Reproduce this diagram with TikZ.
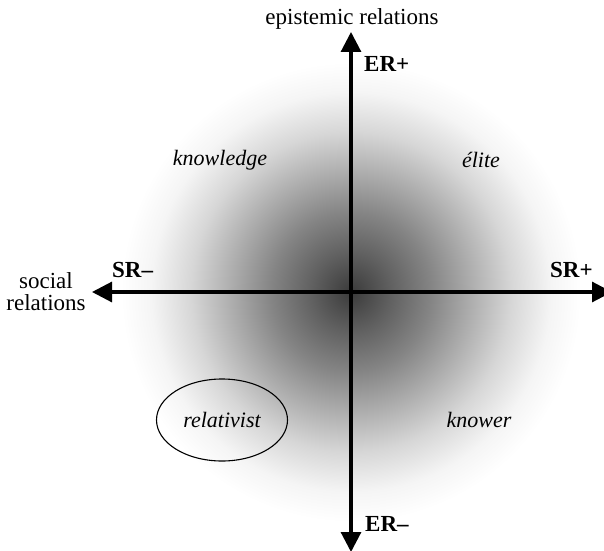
\documentclass[tikz,border=0pt]{standalone}
\usepackage{fontspec}
\setmainfont{Liberation Serif}
\usetikzlibrary{arrows.meta,shapes.geometric}

\pgfdeclareradialshading{haze}{\pgfpoint{0bp}{0bp}}{%
  color(0bp)=(black!77); color(4.17bp)=(black!62); color(8.33bp)=(black!48);
  color(12.5bp)=(black!32); color(16.67bp)=(black!16); color(20.83bp)=(black!4);
  color(23.96bp)=(white); color(50bp)=(white)}

\tikzset{
  axis/.style={line width=3.1pt,
    {Triangle[length=20pt,width=20pt]}-{Triangle[length=20pt,width=20pt]}},
  plain/.style={inner sep=0pt, font=\fontsize{23}{22}\selectfont},
  pole/.style={inner sep=0pt, font=\fontsize{23}{22}\selectfont\bfseries},
  code/.style={inner sep=0pt, font=\fontsize{22}{22}\selectfont\itshape}
}

\begin{document}
\begin{tikzpicture}[x=1pt,y=1pt]
  \useasboundingbox (0,0) rectangle (604,550);

  \coordinate (o) at (351,258);
  \shade[shading=haze] (o) circle (240);

  % axes
  \coordinate (er-hi) at (351,518);
  \coordinate (er-lo) at (351,-2);
  \coordinate (sr-lo) at (92,258);
  \coordinate (sr-hi) at (612,258);
  \draw[axis] (er-lo) -- (er-hi);
  \draw[axis] (sr-lo) -- (sr-hi);

  \node[plain, anchor=base] (er-name) at (352,525) {epistemic relations};
  \node[plain, align=center] (sr-name) at (46,258) {social\\relations};

  \node[pole, anchor=base west] (er-plus) at (364,478) {ER+};
  \node[pole, anchor=base west] (er-minus) at (365,19) {ER–};
  \node[pole, anchor=base west] (sr-minus) at (112,273) {SR–};
  \node[pole, anchor=base west] (sr-plus) at (550,273) {SR+};

  % the four codes
  \node[code, anchor=base] (knowledge) at (220,385) {knowledge};
  \node[code, anchor=base] (elite) at (481,383) {élite};
  \node[code, anchor=base] (knower) at (479,123) {knower};
  \node[code, draw, line width=1.1pt, ellipse, minimum width=131pt,
        minimum height=82pt] (relativist) at (222,130) {relativist};
\end{tikzpicture}
\end{document}
